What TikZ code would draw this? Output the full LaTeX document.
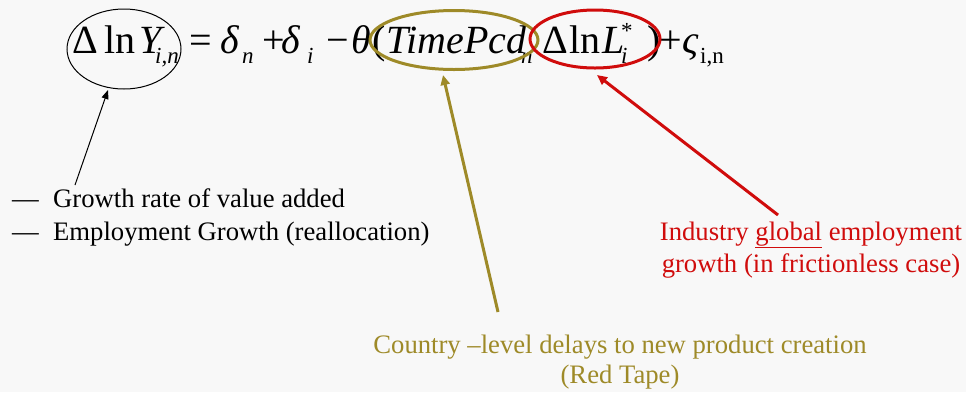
\documentclass[tikz,border=0pt]{standalone}
\usepackage{fontspec}
\setmainfont{Liberation Serif}
\usetikzlibrary{arrows.meta,shapes.geometric}
\definecolor{bgcol}{RGB}{248,248,248}
\definecolor{tapeolive}{RGB}{158,138,40}
\definecolor{tapered}{RGB}{208,12,12}
% small size for indices inside the equation
\newcommand\eqidx{\fontsize{23}{28}\selectfont}

\begin{document}
\begin{tikzpicture}[x=1pt,y=-1pt,
  eq/.style={inner sep=0pt, anchor=base west, font=\fontsize{40}{48}\selectfont},
  eqi/.style={inner sep=0pt, anchor=base west, font=\fontsize{40}{48}\selectfont\itshape},
  sub/.style={inner sep=0pt, anchor=base west, font=\eqidx\itshape},
  subrm/.style={inner sep=0pt, anchor=base west, font=\eqidx},
  body/.style={inner sep=0pt, anchor=base west, font=\fontsize{26.67}{32}\selectfont},
  bodyc/.style={inner sep=0pt, anchor=base, font=\fontsize{26.67}{32}\selectfont},
  ring/.style={ellipse, inner sep=0pt},
  pointer/.style={line width=3pt, -{Triangle[length=10pt,width=9pt]}},
]
% canvas
\fill[bgcol] (0,0) rectangle (966,392);
\useasboundingbox (0,0) rectangle (966,392);

% the regression equation, term by term
\node[eq]    (e1)  at (72,53)  {Δ};
\node[eq]    (e2)  at (104,53) {ln};
\node[eqi]   (e3)  at (139,53) {\makebox[16pt][l]{Y}\raisebox{-10pt}{\eqidx i,n}};
\node[eq]    (e5)  at (189,53) {=};
\node[eqi]   (e6)  at (220,53) {δ};
\node[sub]   (e7)  at (242,63) {n};
\node[eq]    (e8)  at (262,53) {+};
\node[eqi]   (e9)  at (281,53) {δ};
\node[sub]   (e10) at (307,63) {i};
\node[eq]    (e11) at (326,53) {−};
\node[eqi]   (e12) at (351,53) {θ};
\node[eq]    (e13) at (372,53) {(};
\node[eqi]   (e14) at (386,53) {\makebox[135pt][l]{TimePcd}\raisebox{-10pt}{\eqidx n}};
\node[eq]    (e16) at (542,53) {Δ};
\node[eq]    (e17) at (569,53) {ln};
\node[eqi]   (e18) at (602,53) {\makebox[19pt][l]{L}\rlap{\raisebox{15pt}{\eqidx\upshape *}}\raisebox{-10pt}{\eqidx i}};
\node[eq]    (e21) at (647,53) {)};
\node[eq]    (e22) at (659,53) {+};
\node[eqi]   (e23) at (682,53) {ς};
\node[subrm] (e24) at (700,63) {i,n};

% highlighted terms
\node[ring, draw=black, line width=1pt, minimum width=114pt, minimum height=80pt] (ringY) at (124,49) {};
\node[ring, draw=tapeolive, line width=3pt, minimum width=168pt, minimum height=59pt] (ringT) at (454,40) {};
\node[ring, draw=tapered, line width=3pt, minimum width=130pt, minimum height=58pt] (ringL) at (595,39) {};

% explanations
\node[body] (d1) at (12,207) {—};
\node[body] (g1) at (53,207) {Growth rate of value added};
\node[body] (d2) at (12,240) {—};
\node[body] (g2) at (53,240) {Employment Growth (reallocation)};
\node[bodyc, text=tapered] (r1) at (811,240) {Industry \underline{global} employment};
\node[bodyc, text=tapered] (r2) at (811,272) {growth (in frictionless case)};
\node[bodyc, text=tapeolive] (o1) at (620,353) {Country –level delays to new product creation};
\node[bodyc, text=tapeolive] (o2) at (620,383) {(Red Tape)};

% pointers from explanations to the ringed terms
\coordinate (yTail) at (75,185);
\coordinate (yHead) at (108,90);
\coordinate (tTail) at (498,312);
\coordinate (tHead) at (443,75);
\coordinate (lTail) at (778,215);
\coordinate (lHead) at (597,75);
\draw[line width=1pt, -{Triangle[length=9pt,width=7pt]}] (yTail) -- (yHead);
\draw[pointer, draw=tapeolive, fill=tapeolive] (tTail) -- (tHead);
\draw[pointer, draw=tapered, fill=tapered] (lTail) -- (lHead);
\end{tikzpicture}
\end{document}
